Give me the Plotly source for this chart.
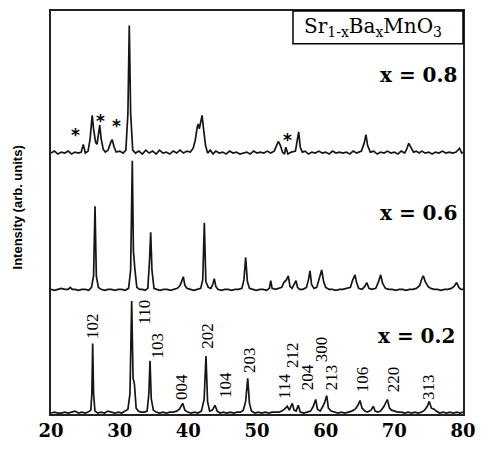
import plotly.graph_objects as go

# ---------------- data ----------------
# x = 0.8 pattern (2theta in degrees, intensity in arb. units above its own baseline)
tt_08 = [20.0, 20.5, 21.0, 21.5, 22.0, 22.5, 23.0, 23.5, 24.0, 24.4, 24.7, 25.0, 25.4, 25.7, 25.9,
         26.0, 26.2, 26.5, 26.7, 26.9, 27.1, 27.3, 27.6, 27.9, 28.3, 28.7, 28.9, 29.2, 29.5, 30.0,
         30.5, 30.9, 31.2, 31.4, 31.6, 31.9, 32.3, 32.8, 33.3, 33.8, 34.3, 34.8, 35.3, 35.8, 36.3,
         36.8, 37.3, 37.8, 38.3, 38.8, 39.3, 39.8, 40.3, 40.7, 41.0, 41.3, 41.45, 41.6, 41.8, 42.0,
         42.2, 42.5, 42.8, 43.2, 43.6, 44.0, 44.5, 45.0, 45.5, 46.0, 46.5, 47.0, 47.5, 48.0, 48.5,
         49.0, 49.5, 50.0, 50.5, 51.0, 51.5, 52.0, 52.5, 52.8, 53.1, 53.4, 53.7, 54.0, 54.2, 54.5,
         55.0, 55.6, 55.9, 56.07, 56.3, 56.6, 57.0, 57.5, 58.0, 58.5, 59.0, 59.5, 60.0, 60.5, 61.0,
         61.5, 62.0, 62.5, 63.0, 63.5, 64.0, 64.5, 65.2, 65.6, 65.87, 66.1, 66.5, 67.0, 67.5, 68.0,
         68.5, 69.0, 69.5, 70.0, 70.5, 71.0, 71.5, 71.8, 72.1, 72.4, 72.8, 73.2, 73.6, 74.0, 74.5,
         75.0, 75.5, 76.0, 76.5, 77.0, 77.5, 78.0, 78.5, 79.0, 79.5, 79.8, 80.0]
int_08 = [2, 4, 1, 3, 2, 4, 1, 3, 2, 3, 11, 2, 4, 17, 33,
          41, 27, 13, 11, 23, 31, 17, 6, 3, 5, 13, 16, 8, 3, 4,
          2, 5, 43, 134, 43, 5, 2, 4, 1, 5, 2, 4, 1, 5, 2,
          3, 1, 4, 2, 5, 2, 4, 3, 7, 15, 29, 32, 27, 33, 41,
          28, 10, 2, 5, 1, 4, 2, 3, 1, 4, 2, 3, 1, 2, 3,
          1, 4, 2, 3, 2, 4, 2, 4, 9, 14, 10, 3, 1, 8, 1,
          3, 4, 18, 24, 8, 3, 4, 1, 3, 2, 4, 2, 3, 1, 4,
          2, 3, 2, 3, 1, 4, 2, 4, 12, 21, 10, 3, 4, 1, 3,
          2, 4, 2, 3, 1, 4, 2, 6, 12, 8, 3, 4, 2, 4, 2,
          3, 1, 3, 2, 4, 2, 3, 2, 3, 7, 2, 3]

# x = 0.6 pattern
tt_06 = [20.0, 20.5, 21.0, 21.5, 22.0, 22.5, 22.8, 23.1, 23.5, 24.0, 24.5, 25.0, 25.5, 25.9, 26.2,
         26.41, 26.6, 26.9, 27.3, 27.8, 28.3, 28.8, 29.3, 29.8, 30.3, 30.8, 31.3, 31.6, 31.84, 32.0,
         32.2, 32.5, 32.9, 33.3, 33.7, 34.1, 34.35, 34.52, 34.7, 35.0, 35.4, 35.9, 36.4, 36.9, 37.4,
         37.9, 38.4, 38.8, 39.0, 39.27, 39.5, 39.8, 40.3, 40.8, 41.3, 41.8, 42.1, 42.33, 42.55, 42.9,
         43.3, 43.6, 43.78, 44.0, 44.3, 44.8, 45.3, 45.8, 46.3, 46.8, 47.3, 47.8, 48.1, 48.35, 48.6,
         48.9, 49.4, 49.9, 50.4, 50.9, 51.4, 51.8, 52.0, 52.2, 52.7, 53.2, 53.6, 53.9, 54.3, 54.56,
         54.8, 55.1, 55.4, 55.68, 55.9, 56.2, 56.7, 57.2, 57.5, 57.72, 57.95, 58.3, 58.7, 59.1, 59.42,
         59.7, 60.0, 60.5, 61.0, 61.5, 62.0, 62.5, 63.0, 63.6, 63.9, 64.27, 64.5, 64.8, 65.3, 65.7,
         65.98, 66.3, 66.7, 67.3, 67.7, 68.01, 68.3, 68.7, 69.2, 69.7, 70.2, 70.7, 71.2, 71.7, 72.2,
         72.7, 73.2, 73.7, 74.0, 74.22, 74.5, 74.9, 75.3, 75.8, 76.3, 76.8, 77.3, 77.8, 78.3, 78.7,
         79.08, 79.4, 79.7, 80.0]
int_06 = [1, 0, 1, 2, 1, 1, 3, 1, 1, 0, 1, 1, 0, 3, 15,
          87, 15, 3, 1, 0, 1, 1, 0, 1, 1, 0, 2, 21, 134, 41,
          23, 3, 1, 1, 0, 2, 31, 60, 21, 2, 1, 0, 1, 1, 0,
          1, 2, 5, 9, 14, 5, 2, 1, 0, 1, 2, 11, 70, 9, 3,
          2, 7, 12, 4, 1, 0, 1, 1, 0, 1, 1, 2, 11, 34, 9,
          2, 1, 0, 1, 1, 0, 2, 10, 2, 1, 2, 3, 8, 11, 15,
          4, 2, 6, 10, 3, 1, 1, 3, 11, 20, 6, 2, 3, 13, 21,
          9, 3, 1, 1, 0, 1, 1, 2, 3, 10, 16, 8, 2, 1, 4,
          8, 2, 1, 2, 9, 16, 7, 2, 1, 1, 0, 1, 1, 0, 1,
          1, 2, 5, 12, 15, 9, 4, 2, 1, 1, 0, 1, 1, 2, 4,
          8, 3, 1, 1]

# x = 0.2 pattern
tt_02 = [20.0, 20.5, 21.0, 21.5, 22.0, 22.5, 23.0, 23.5, 24.0, 24.5, 25.0, 25.4, 25.8, 25.95, 26.07,
         26.2, 26.4, 26.8, 27.3, 27.8, 28.3, 28.8, 29.3, 29.8, 30.3, 30.8, 31.2, 31.5, 31.75, 31.95,
         32.15, 32.4, 32.7, 33.1, 33.6, 34.0, 34.25, 34.42, 34.6, 34.9, 35.3, 35.8, 36.3, 36.8, 37.3,
         37.8, 38.3, 38.7, 39.18, 39.5, 39.9, 40.4, 40.9, 41.4, 41.9, 42.3, 42.57, 42.8, 43.1, 43.5,
         43.88, 44.2, 44.6, 45.1, 45.6, 46.1, 46.6, 47.1, 47.6, 48.0, 48.35, 48.65, 48.9, 49.2, 49.7,
         50.2, 50.7, 51.2, 51.7, 52.2, 52.7, 53.2, 53.6, 54.0, 54.41, 54.7, 55.14, 55.4, 55.7, 56.01,
         56.3, 56.8, 57.3, 57.8, 58.2, 58.55, 58.8, 59.2, 59.6, 59.85, 60.15, 60.4, 60.8, 61.3, 61.8,
         62.3, 62.8, 63.3, 63.8, 64.3, 64.7, 65.0, 65.3, 65.7, 66.1, 66.6, 66.94, 67.2, 67.6, 68.0,
         68.5, 68.98, 69.3, 69.6, 70.0, 70.5, 71.0, 71.5, 72.0, 72.5, 73.0, 73.5, 74.0, 74.4, 74.8,
         75.09, 75.4, 75.8, 76.1, 76.6, 77.1, 77.6, 78.1, 78.6, 79.1, 79.6, 80.0]
int_02 = [1, 2, 1, 1, 2, 1, 2, 3, 1, 2, 1, 2, 4, 21, 73,
          21, 3, 1, 2, 1, 3, 2, 1, 2, 1, 3, 5, 21, 117, 37,
          31, 6, 3, 2, 2, 3, 21, 55, 16, 4, 2, 1, 2, 1, 2,
          2, 3, 5, 11, 4, 2, 1, 2, 1, 3, 15, 60, 13, 3, 4,
          9, 3, 1, 2, 1, 2, 1, 2, 2, 4, 13, 37, 11, 3, 1,
          2, 1, 2, 1, 2, 2, 2, 3, 5, 8, 4, 11, 4, 3, 9,
          2, 1, 2, 3, 8, 15, 5, 3, 8, 12, 19, 6, 3, 2, 1,
          2, 1, 2, 3, 5, 9, 14, 6, 3, 2, 4, 8, 3, 2, 3,
          8, 15, 6, 4, 3, 2, 2, 1, 2, 1, 2, 1, 2, 4, 8,
          13, 6, 5, 3, 1, 2, 1, 2, 1, 2, 1, 2]

hkl_labels = ["102", "110", "103", "004", "202", "104", "203", "114",
              "212", "204", "300", "213", "106", "220", "313"]
panel_labels = ["x = 0.8", "x = 0.6", "x = 0.2"]
x_ticks = [20, 30, 40, 50, 60, 70, 80]

# ---------------- layout / style ----------------
offsets = {"0.8": 268, "0.6": 128, "0.2": 0}
line_style = dict(color="#151515", width=1.7)

fig = go.Figure()
for tt, inten, key in [(tt_08, int_08, "0.8"), (tt_06, int_06, "0.6"), (tt_02, int_02, "0.2")]:
    fig.add_trace(go.Scatter(x=tt, y=[v + offsets[key] for v in inten], mode="lines",
                             line=line_style, showlegend=False, hoverinfo="skip"))

serif = "DejaVu Serif"
annotations = []

# hkl labels (positions in data coordinates)
hkl_pos = [(25.97, 91), (33.69, 105), (35.44, 71), (39.08, 28), (42.86, 81), (45.34, 30),
           (48.98, 56), (54.08, 28), (55.10, 61), (57.28, 38), (59.32, 67), (60.78, 38),
           (65.29, 36), (69.80, 36), (75.05, 28)]
for lab, (px, py) in zip(hkl_labels, hkl_pos):
    annotations.append(dict(x=px, y=py, xref="x", yref="y", text=lab, showarrow=False,
                            xanchor="center", yanchor="middle", textangle=-90,
                            font=dict(family="Liberation Serif", size=17, color="black")))

# asterisks (impurity peaks) on x = 0.8
for px, py in [(23.64, 294), (27.28, 308), (29.61, 303), (54.37, 289)]:
    annotations.append(dict(x=px, y=py, xref="x", yref="y", text="<b>*</b>", showarrow=False,
                            xanchor="center", yanchor="middle", yshift=-5,
                            font=dict(family="DejaVu Sans", size=17, color="black")))

# composition labels
for lab, (px, py) in zip(panel_labels, [(0.8908, 0.8417), (0.8908, 0.4988), (0.8883, 0.1942)]):
    annotations.append(dict(x=px, y=py, xref="paper", yref="paper", text="<b>" + lab + "</b>",
                            showarrow=False, xanchor="center", yanchor="middle",
                            font=dict(family=serif, size=20, color="black")))

# formula box text
annotations.append(dict(x=0.7816, y=0.9592, xref="paper", yref="paper",
                        text="Sr<sub>1-x</sub>Ba<sub>x</sub>MnO<sub>3</sub>", showarrow=False,
                        xanchor="center", yanchor="middle",
                        font=dict(family=serif, size=20, color="black")))

# y-axis title
annotations.append(dict(x=-0.082, y=0.513, xref="paper", yref="paper",
                        text="<b>Intensity (arb. units)</b>", showarrow=False, textangle=-90,
                        xanchor="center", yanchor="middle",
                        font=dict(family="Liberation Sans", size=13, color="black")))

fig.update_layout(
    width=488, height=450,
    margin=dict(l=51, r=25, t=9, b=24),
    paper_bgcolor="white", plot_bgcolor="white",
    annotations=annotations,
    shapes=[dict(type="rect", xref="paper", yref="paper", x0=0.5874, x1=1.0, y0=0.9185, y1=1.0,
                 line=dict(color="black", width=1.5), fillcolor="rgba(0,0,0,0)")],
    xaxis=dict(range=[20, 80], tickvals=x_ticks, ticktext=[str(t) for t in x_ticks],
               showgrid=False, zeroline=False, showline=True, mirror=True,
               linecolor="#222", linewidth=1.5, ticks="",
               tickfont=dict(family=serif, size=18, color="black", weight="bold")),
    yaxis=dict(range=[0, 417], showgrid=False, zeroline=False, showline=True, mirror=True,
               linecolor="#222", linewidth=1.5, ticks="", showticklabels=False),
)

fig.write_html("out.html")
